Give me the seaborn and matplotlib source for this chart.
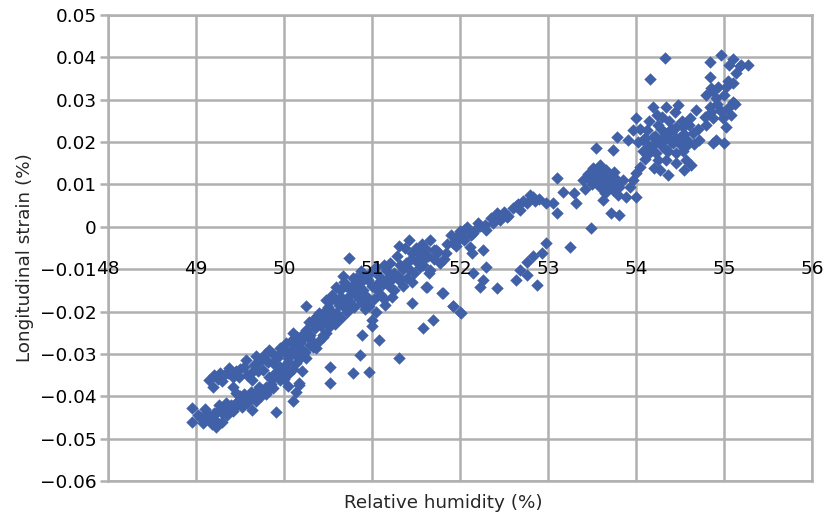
import matplotlib
matplotlib.use("Agg")
import matplotlib.pyplot as plt
import seaborn as sns
import pandas as pd
import numpy as np

# ---- data ----
humidity = [
    # lower band 49-50.2
    48.96, 48.96, 49.11, 49.23, 49.30, 49.45, 49.57, 49.64, 49.68, 49.80, 49.91, 49.95, 50.06, 50.14, 50.10, 50.17,
    # upper band / main band
    49.15, 49.27, 49.38, 49.19, 49.49, 49.57, 49.68, 49.80, 49.83, 49.95, 50.02, 50.10, 50.25, 50.33, 50.25, 50.40,
    50.48, 50.59, 50.67, 50.74, 50.82, 50.86, 50.93, 50.97, 51.00, 51.05, 51.08, 51.16, 51.20, 51.23, 51.31, 51.39,
    51.46, 51.31, 51.42, 51.54, 51.61, 51.65, 51.73, 51.77, 51.80, 51.84, 51.95, 51.92, 52.01, 52.03, 52.14,
    # inside band
    50.14, 49.95, 49.76, 49.64, 49.83, 50.33, 50.44, 50.52, 50.59, 50.70, 50.78, 50.89, 50.48, 50.17, 50.06, 49.87,
    49.72, 49.45, 49.34, 49.23, 49.08, 49.42,
    # outliers below band
    50.89, 51.08, 50.86, 50.78, 50.97, 50.52, 50.52, 50.17, 51.31, 51.58, 51.69, 51.46, 51.00,
    # top-right cluster
    54.33, 54.16, 54.84, 54.97, 55.06, 55.19, 55.27, 55.14, 55.10, 55.02, 54.84, 54.85, 54.80, 54.91, 54.84, 54.95,
    55.10, 55.08, 54.99, 54.87, 54.68, 54.80, 54.91, 55.00, 54.87,
    # cluster near 54.3
    54.19, 54.34, 54.48, 54.61, 54.53, 54.42, 54.33, 54.27, 54.19, 54.12, 54.00, 53.97, 54.08, 54.16, 54.23, 54.34,
    54.42, 54.50, 54.65, 54.72, 54.57, 54.46, 54.34, 54.27, 54.36, 54.57, 54.53, 54.25, 54.12, 53.91, 53.78, 53.74,
    53.55, 54.04, 54.00, 53.97, 53.93, 53.89, 54.00,
    # cluster near 53.6
    53.51, 53.59, 53.66, 53.40, 53.47, 53.55, 53.63, 53.70, 53.78, 53.81, 53.74, 53.66, 53.59, 53.63, 53.72, 53.81,
    53.49, 53.25, 53.10, 53.17, 53.29, 53.32, 53.06, 53.10, 52.98,
    # band 52-53 and lower branch
    52.83, 52.76, 52.68, 52.64, 52.53, 52.42, 52.38, 52.30, 52.23, 52.15, 52.04, 51.96, 51.92, 52.11, 52.26, 51.70,
    51.58, 51.66, 51.62, 51.81, 51.92, 52.00, 52.30, 52.26, 52.23, 52.42, 52.15, 52.68, 52.76, 52.64, 52.76, 52.87,
    52.93, 52.98, 52.83,
    # extra dense band points
    49.05, 49.15, 49.20, 49.28, 49.35, 49.40, 49.48, 49.52, 49.60, 49.70, 49.75, 49.85, 49.90, 50.00, 50.05, 50.12,
    50.20, 50.22, 50.30, 50.35, 50.42, 50.45, 50.55, 50.62, 50.65, 50.75, 50.80, 50.85, 50.90, 50.95, 51.00, 51.02,
    51.10, 51.12, 51.25, 51.35, 51.40, 51.50, 51.55, 51.60, 51.70, 51.85, 51.90, 52.00, 52.08, 52.20, 52.35, 52.50,
    52.60, 52.72, 52.80, 52.90,
    49.25, 49.32, 49.45, 49.55, 49.62, 49.72, 49.78, 49.92, 50.00, 50.08, 50.15, 50.28, 50.38, 50.50, 50.55, 50.70,
    50.78, 50.88, 51.05, 51.20, 51.28, 51.38,
    49.10, 49.18, 49.30, 49.42, 49.58, 49.65, 49.80, 49.88, 50.00, 50.05, 50.20, 50.25, 50.30, 50.40, 50.48, 50.58,
    50.65, 50.72, 50.80, 50.92, 51.05, 51.15, 51.25, 51.35, 51.45,
    54.05, 54.15, 54.25, 54.30, 54.38, 54.45, 54.55, 54.60, 54.70, 54.40, 54.30, 54.20, 54.10, 54.35, 54.50, 54.45,
    54.55, 54.62, 54.20, 54.10,
    53.45, 53.55, 53.62, 53.68, 53.72, 53.58, 53.50, 53.42, 53.65, 53.80, 53.85, 53.75,
    54.88, 54.92, 54.98, 55.05, 54.85, 54.78, 55.00, 55.05, 55.12, 55.02, 55.18, 55.10, 54.93,
    # more fill: lower/main band
    49.02, 49.12, 49.22, 49.26, 49.33, 49.38, 49.45, 49.50, 49.55, 49.62, 49.68, 49.74, 49.82, 49.86, 49.94, 49.98,
    50.04, 50.10, 50.18, 50.24, 50.32, 50.36, 50.44, 50.52, 50.60, 50.68, 50.74, 50.82, 50.86, 50.94, 51.06, 51.14,
    51.18, 51.30, 51.42, 51.48, 51.58, 51.64, 51.75, 51.82, 51.98, 52.05, 52.12, 52.18, 52.28, 52.45, 52.55, 52.66,
    52.85,
    # more fill: upper band
    49.20, 49.30, 49.36, 49.42, 49.50, 49.58, 49.66, 49.70, 49.76, 49.82, 49.88, 49.96, 50.03, 50.10, 50.13, 50.18,
    50.23, 50.28, 50.34, 50.40, 50.46, 50.52, 50.58, 50.64, 50.68, 50.74, 50.82, 50.90, 50.98, 51.08, 51.14, 51.22,
    51.32, 51.44, 51.50, 51.57, 51.66,
    # more fill: clusters 54.x and 53.x
    54.28, 54.32, 54.40, 54.46, 54.52, 54.58, 54.22, 54.15, 54.08, 54.36, 54.44, 54.24, 54.66, 54.02,
    53.52, 53.60, 53.66, 53.56, 53.70, 53.62, 53.48, 53.76,
]
strain = [
    -0.0428, -0.0460, -0.0448, -0.0472, -0.0440, -0.0424, -0.0409, -0.0432, -0.0390, -0.0377, -0.0436, -0.0361, -0.0346, -0.0390, -0.0410, -0.0373,
    -0.0361, -0.0346, -0.0334, -0.0377, -0.0354, -0.0314, -0.0306, -0.0314, -0.0290, -0.0298, -0.0275, -0.0251, -0.0243, -0.0220, -0.0188, -0.0204,
    -0.0172, -0.0141, -0.0117, -0.0074, -0.0149, -0.0133, -0.0165, -0.0188, -0.0220, -0.0141, -0.0117, -0.0102, -0.0141, -0.0165, -0.0125, -0.0086,
    -0.0062, -0.0046, -0.0031, -0.0094, -0.0141, -0.0109, -0.0054, -0.0086, -0.0157, -0.0062, -0.0046, -0.0188, -0.0204, -0.0023, -0.0062,
    -0.0322, -0.0330, -0.0338, -0.0361, -0.0354, -0.0283, -0.0259, -0.0235, -0.0204, -0.0180, -0.0188, -0.0180, -0.0220, -0.0283, -0.0298, -0.0322,
    -0.0377, -0.0393, -0.0417, -0.0440, -0.0464, -0.0377,
    -0.0255, -0.0267, -0.0302, -0.0346, -0.0342, -0.0330, -0.0369, -0.0369, -0.0310, -0.0239, -0.0220, -0.0180, -0.0235,
    0.0398, 0.0348, 0.0390, 0.0405, 0.0382, 0.0382, 0.0382, 0.0362, 0.0339, 0.0331, 0.0354, 0.0327, 0.0311, 0.0303, 0.0284, 0.0276,
    0.0295, 0.0264, 0.0256, 0.0256, 0.0276, 0.0240, 0.0205, 0.0197, 0.0197,
    0.0284, 0.0284, 0.0288, 0.0256, 0.0236, 0.0229, 0.0221, 0.0205, 0.0213, 0.0229, 0.0256, 0.0229, 0.0205, 0.0181, 0.0174, 0.0181,
    0.0197, 0.0213, 0.0221, 0.0205, 0.0190, 0.0174, 0.0158, 0.0134, 0.0122, 0.0158, 0.0178, 0.0158, 0.0170, 0.0205, 0.0213, 0.0181,
    0.0185, 0.0142, 0.0126, 0.0111, 0.0095, 0.0071, 0.0071,
    0.0138, 0.0146, 0.0134, 0.0111, 0.0119, 0.0111, 0.0111, 0.0115, 0.0111, 0.0095, 0.0087, 0.0095, 0.0095, 0.0064, 0.0032, 0.0028,
    -0.0003, -0.0047, 0.0115, 0.0083, 0.0079, 0.0056, 0.0056, 0.0032, 0.0056,
    0.0071, 0.0056, 0.0040, 0.0048, 0.0024, 0.0032, 0.0008, -0.0007, 0.0001, -0.0015, -0.0007, -0.0023, -0.0039, -0.0047, -0.0054, -0.0054,
    -0.0078, -0.0102, -0.0141, -0.0157, -0.0188, -0.0200, -0.0094, -0.0125, -0.0141, -0.0145, -0.0110, -0.0102, -0.0082, -0.0125, -0.0113, -0.0137,
    -0.0062, -0.0039, -0.0070,
    -0.0450, -0.0455, -0.0440, -0.0430, -0.0445, -0.0420, -0.0410, -0.0425, -0.0400, -0.0395, -0.0385, -0.0370, -0.0345, -0.0330, -0.0310, -0.0300,
    -0.0290, -0.0265, -0.0255, -0.0240, -0.0235, -0.0215, -0.0200, -0.0185, -0.0165, -0.0160, -0.0135, -0.0170, -0.0150, -0.0125, -0.0140, -0.0170,
    -0.0160, -0.0135, -0.0110, -0.0100, -0.0120, -0.0080, -0.0065, -0.0050, -0.0075, -0.0040, -0.0020, -0.0010, 0.0000, 0.0010, 0.0020, 0.0035,
    0.0045, 0.0060, 0.0075, 0.0065,
    -0.0360, -0.0350, -0.0340, -0.0330, -0.0345, -0.0320, -0.0300, -0.0310, -0.0290, -0.0270, -0.0260, -0.0225, -0.0210, -0.0190, -0.0160, -0.0140,
    -0.0120, -0.0105, -0.0095, -0.0085, -0.0070, -0.0050,
    -0.0430, -0.0465, -0.0460, -0.0435, -0.0415, -0.0405, -0.0395, -0.0380, -0.0360, -0.0375, -0.0340, -0.0310, -0.0280, -0.0270, -0.0250, -0.0230,
    -0.0215, -0.0200, -0.0190, -0.0195, -0.0200, -0.0185, -0.0150, -0.0140, -0.0130,
    0.0230, 0.0250, 0.0240, 0.0260, 0.0250, 0.0235, 0.0220, 0.0240, 0.0230, 0.0200, 0.0190, 0.0195, 0.0210, 0.0215, 0.0195, 0.0150,
    0.0135, 0.0145, 0.0140, 0.0160,
    0.0125, 0.0130, 0.0120, 0.0105, 0.0095, 0.0105, 0.0100, 0.0090, 0.0080, 0.0075, 0.0110, 0.0130,
    0.0320, 0.0290, 0.0270, 0.0280, 0.0270, 0.0260, 0.0310, 0.0345, 0.0290, 0.0235, 0.0380, 0.0395, 0.0330,
    -0.0445, -0.0440, -0.0455, -0.0420, -0.0435, -0.0425, -0.0415, -0.0400, -0.0395, -0.0390, -0.0410, -0.0400, -0.0385, -0.0360, -0.0350, -0.0340,
    -0.0320, -0.0335, -0.0310, -0.0295, -0.0270, -0.0285, -0.0255, -0.0215, -0.0215, -0.0190, -0.0175, -0.0160, -0.0150, -0.0165, -0.0150, -0.0170,
    -0.0120, -0.0115, -0.0100, -0.0110, -0.0090, -0.0070, -0.0060, -0.0075, -0.0030, -0.0030, -0.0020, -0.0005, 0.0005, 0.0015, 0.0025, 0.0055,
    0.0060,
    -0.0350, -0.0365, -0.0345, -0.0355, -0.0335, -0.0350, -0.0325, -0.0340, -0.0310, -0.0320, -0.0300, -0.0285, -0.0300, -0.0285, -0.0265, -0.0275,
    -0.0250, -0.0260, -0.0230, -0.0225, -0.0200, -0.0175, -0.0170, -0.0150, -0.0130, -0.0145, -0.0120, -0.0115, -0.0110, -0.0130, -0.0090, -0.0125,
    -0.0090, -0.0075, -0.0050, -0.0040, -0.0030,
    0.0230, 0.0205, 0.0230, 0.0210, 0.0250, 0.0205, 0.0215, 0.0190, 0.0180, 0.0180, 0.0270, 0.0265, 0.0195, 0.0200,
    0.0120, 0.0125, 0.0115, 0.0115, 0.0105, 0.0095, 0.0110, 0.0100,
]

x_ticks = [48, 49, 50, 51, 52, 53, 54, 55, 56]
y_ticks = [0.05, 0.04, 0.03, 0.02, 0.01, 0, -0.01, -0.02, -0.03, -0.04, -0.05, -0.06]
y_tick_labels = ["0.05", "0.04", "0.03", "0.02", "0.01", "0", "\u22120.01", "\u22120.02",
                 "\u22120.03", "\u22120.04", "\u22120.05", "\u22120.06"]
x_label_row = -0.01
x_title = "Relative humidity (%)"
y_title = "Longitudinal strain (%)"

df = pd.DataFrame({"humidity": humidity, "strain": strain})

sns.set_theme(style="white")
plt.rcParams["font.family"] = ["DejaVu Sans"]

fig = plt.figure(figsize=(8.24, 5.16), dpi=100)
ax = fig.add_axes([108 / 824, 1 - 481 / 516, (812 - 108) / 824, (481 - 15) / 516])

grid_c = "#B0B0B0"
tick_fs = 13.3
ax.set_xlim(48, 56)
ax.set_ylim(-0.06, 0.05)
ax.set_xticks(x_ticks)
ax.set_yticks(y_ticks)
ax.set_yticklabels(y_tick_labels, fontsize=tick_fs, color="black")
ax.set_xticklabels([])
ax.grid(True, color=grid_c, linewidth=1.8)
ax.set_axisbelow(True)
for sp in ax.spines.values():
    sp.set_color(grid_c)
    sp.set_linewidth(1.8)
ax.tick_params(axis="y", left=True, length=6, width=1.8, color=grid_c, pad=2)
ax.tick_params(axis="x", bottom=False, length=0)

sns.scatterplot(data=df, x="humidity", y="strain", marker="D", s=40,
                color="#4060A8", linewidth=0, ax=ax, zorder=3)
ax.set_xlabel("")
ax.set_ylabel("")

for xv in x_ticks:
    ax.text(xv, x_label_row, str(xv), ha="center", va="center", fontsize=tick_fs,
            color="black", zorder=4)

fig.text(443 / 824, 1 - 503 / 516, x_title, ha="center", va="center", fontsize=13.2)
fig.text(25 / 824, 1 - 258 / 516, y_title, ha="center", va="center", rotation=90, fontsize=13.2)

fig.savefig("out.png", dpi=100)
